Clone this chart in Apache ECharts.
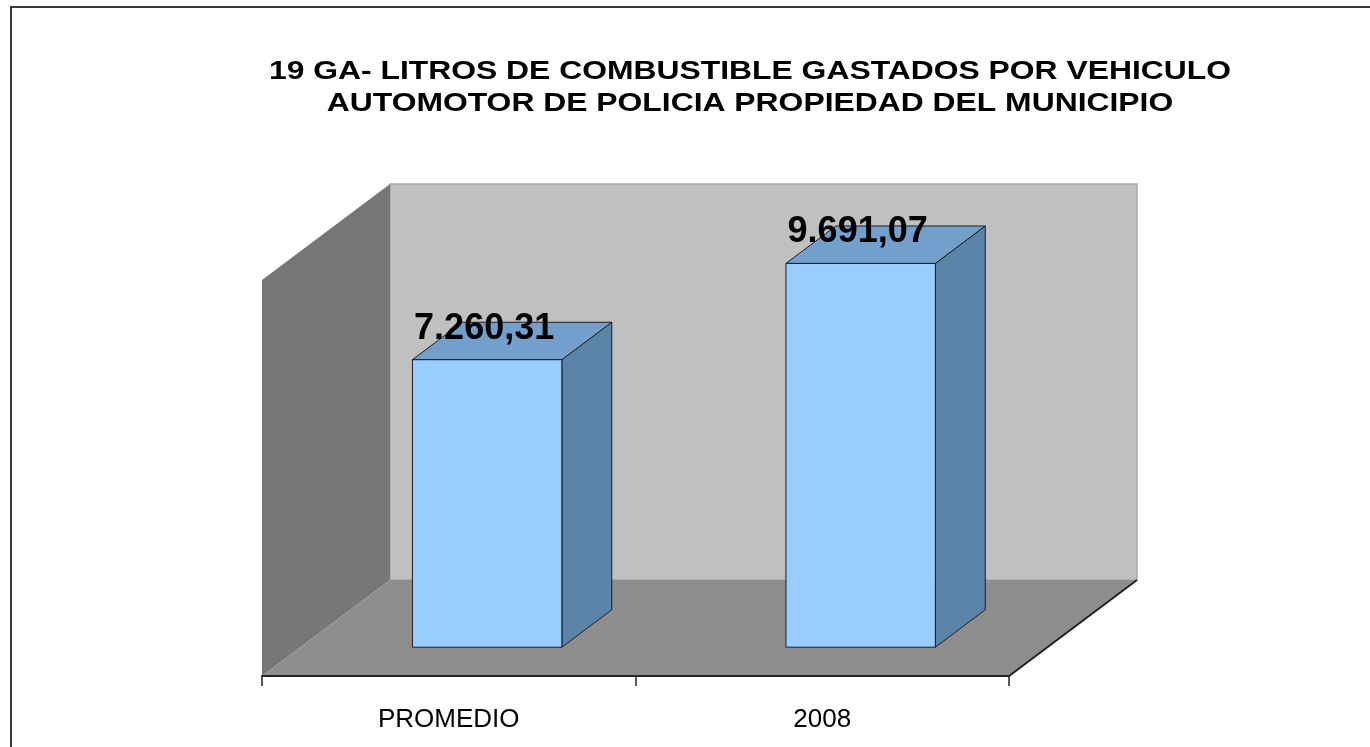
<!DOCTYPE html>
<html>
<head>
<meta charset="utf-8">
<title>Litros de combustible</title>
<script src="https://cdn.jsdelivr.net/npm/echarts@6/dist/echarts.min.js"></script>
<style>
html, body { margin: 0; padding: 0; background: #fff; }
#main { width: 1370px; height: 747px; }
</style>
</head>
<body>
<div id="main"></div>
<script>
// datos del grafico
var categorias = ['PROMEDIO', '2008'];
var litros = [7260.31, 9691.07];
var tituloLineas = [
	'19 GA- LITROS DE COMBUSTIBLE GASTADOS POR VEHICULO',
	'AUTOMOTOR DE POLICIA PROPIEDAD DEL MUNICIPIO'
];
var ejeMax = 10000;

// profundidad del efecto 3D (px)
var PROF_X = 128, PROF_Y = -96;
var FUENTE = '"Liberation Sans", Arial, sans-serif';

// 7260.31 -> 7.260,31
function formato(v) {
	var partes = v.toFixed(2).split('.');
	var entero = partes[0].replace(/\B(?=(\d{3})+(?!\d))/g, '.');
	return entero + ',' + partes[1];
}

var myChart = echarts.init(document.getElementById('main'));

// paredes y piso de la caja 3D
function paredes(params, api) {
	var r = params.coordSys;
	var x0 = r.x, x1 = r.x + r.width, yt = r.y, yb = r.y + r.height;
	var dx = PROF_X, dy = PROF_Y;
	return {
		type: 'group',
		children: [{
			type: 'polygon',
			shape: { points: [[x0 + dx, yt + dy], [x1 + dx, yt + dy], [x1 + dx, yb + dy], [x0 + dx, yb + dy]] },
			style: { fill: '#C0C0C0', stroke: '#A9A9A9', lineWidth: 1.5 }
		}, {
			type: 'polygon',
			shape: { points: [[x0, yt], [x0 + dx, yt + dy], [x0 + dx, yb + dy], [x0, yb]] },
			style: { fill: '#777777' }
		}, {
			type: 'polygon',
			shape: { points: [[x0, yb], [x0 + dx, yb + dy], [x1 + dx, yb + dy], [x1, yb]] },
			style: { fill: '#8E8E8E' }
		}, {
			type: 'polyline',
			shape: { points: [[x0, yb], [x1, yb], [x1 + dx, yb + dy]] },
			style: { stroke: '#222', lineWidth: 2, fill: null }
		}]
	};
}

// barras 3D con su etiqueta
function barras(params, api) {
	var idx = api.value(0), val = api.value(1);
	var base = api.coord([idx, 0]);
	var tope = api.coord([idx, val]);
	var ancho = api.size([1, 0])[0] * 0.4;
	var fx = 0.30 * PROF_X, fy = 0.30 * PROF_Y;   // cara frontal
	var px = 0.39 * PROF_X, py = 0.39 * PROF_Y;   // fondo de la barra
	var x0 = base[0] - ancho / 2 + fx, x1 = x0 + ancho;
	var yb = base[1] + fy, yt = tope[1] + fy;
	var borde = { stroke: '#1E1E1E', lineWidth: 1 };
	return {
		type: 'group',
		children: [{
			type: 'polygon',
			shape: { points: [[x1, yt], [x1 + px, yt + py], [x1 + px, yb + py], [x1, yb]] },
			style: $.extend({ fill: '#5B84A8' }, borde)
		}, {
			type: 'polygon',
			shape: { points: [[x0, yt], [x1, yt], [x1 + px, yt + py], [x0 + px, yt + py]] },
			style: $.extend({ fill: '#729FCC' }, borde)
		}, {
			type: 'rect',
			shape: { x: x0, y: yt, width: ancho, height: yb - yt },
			style: $.extend({ fill: '#99CCFF' }, borde)
		}, {
			type: 'text',
			x: (x0 + x1) / 2 - 3,
			y: yt - 31,
			style: {
				text: formato(val),
				fill: '#000',
				font: 'bold 36px ' + FUENTE,
				textAlign: 'center',
				textVerticalAlign: 'middle'
			}
		}]
	};
}

var $ = { extend: function (a, b) { for (var k in b) a[k] = b[k]; return a; } };

var option = {
	animation: false,
	backgroundColor: '#fff',
	grid: { left: 262, right: 361, top: 280, bottom: 71 },
	xAxis: {
		type: 'category',
		data: categorias,
		boundaryGap: true,
		axisLine: { show: true, lineStyle: { color: '#222', width: 2 } },
		axisTick: { show: true, length: 10, lineStyle: { color: '#222', width: 1.5 } },
		axisLabel: { margin: 31, fontSize: 26, color: '#000', fontFamily: FUENTE }
	},
	yAxis: { type: 'value', min: 0, max: ejeMax, show: false },
	graphic: [{
		type: 'rect',
		shape: { x: 11, y: 7, width: 1400, height: 800 },
		style: { fill: null, stroke: '#3A3A3A', lineWidth: 2 }
	}, {
		type: 'text',
		x: 750, y: 72, scaleX: 1.225,
		style: { text: tituloLineas[0], font: 'bold 26px ' + FUENTE, fill: '#000', textAlign: 'center', textVerticalAlign: 'middle' }
	}, {
		type: 'text',
		x: 750, y: 104, scaleX: 1.225,
		style: { text: tituloLineas[1], font: 'bold 26px ' + FUENTE, fill: '#000', textAlign: 'center', textVerticalAlign: 'middle' }
	}],
	series: [{
		name: 'caja',
		type: 'custom',
		z: 1,
		silent: true,
		renderItem: paredes,
		data: [[0, 0]]
	}, {
		name: 'litros',
		type: 'custom',
		z: 3,
		renderItem: barras,
		data: litros.map(function (v, i) { return [i, v]; })
	}]
};
myChart.setOption(option);
</script>
</body>
</html>
